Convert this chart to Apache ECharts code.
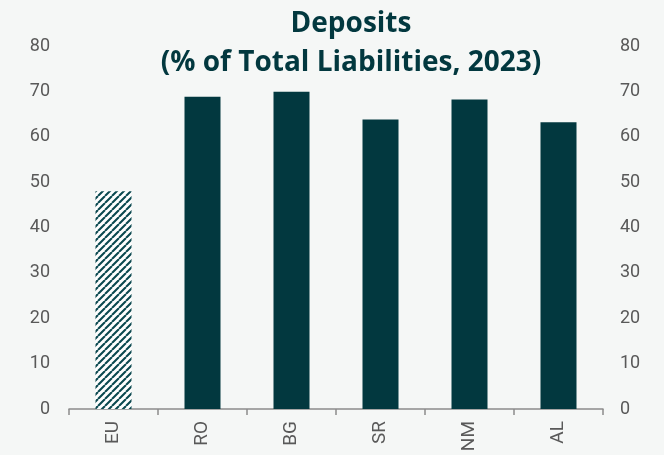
<!DOCTYPE html>
<html>
<head>
<meta charset="utf-8">
<script src="https://cdn.jsdelivr.net/npm/echarts@6/dist/echarts.min.js"></script>
<style>
  html, body { margin: 0; padding: 0; background: #f5f7f6; }
  #chart { width: 664px; height: 455px; }
</style>
</head>
<body>
<div id="chart"></div>
<script>
const categories = ['EU', 'RO', 'BG', 'SR', 'NM', 'AL'];
const deposits = [48.0, 68.8, 69.9, 63.8, 68.2, 63.2];
const yTicks = [0, 10, 20, 30, 40, 50, 60, 70, 80];

const teal = '#02383f';
const grey = '#595959';

// Diagonal hatch fill for the EU aggregate bar
function hatchPattern() {
  const size = 7;
  const c = document.createElement('canvas');
  c.width = size; c.height = size;
  const g = c.getContext('2d');
  g.fillStyle = '#ffffff';
  g.fillRect(0, 0, size, size);
  g.strokeStyle = '#0b4950';
  g.lineWidth = 2.1;
  g.beginPath();
  for (let k = -1; k <= 1; k++) {
    g.moveTo(k * size, size);
    g.lineTo(k * size + size, 0);
  }
  g.stroke();
  return c;
}

const barData = deposits.map((v, i) => ({
  value: v,
  itemStyle: i === 0
    ? { color: { image: hatchPattern(), repeat: 'repeat' } }
    : { color: teal }
}));

const chart = echarts.init(document.getElementById('chart'), null, { renderer: 'canvas' });
const yAxisCommon = {
  type: 'value',
  min: yTicks[0],
  max: yTicks[yTicks.length - 1],
  interval: 10,
  splitLine: { show: false },
  axisLine: { show: false },
  axisTick: { show: false },
  axisLabel: { color: grey, fontSize: 18, fontFamily: 'Roboto' }
};

chart.setOption({
  backgroundColor: '#f5f7f6',
  animation: false,
  title: {
    text: 'Deposits\n(% of Total Liabilities, 2023)',
    left: 346,
    top: 0,
    textAlign: 'center',
    textStyle: {
      color: teal,
      fontSize: 28,
      fontWeight: 'bold',
      fontFamily: 'Open Sans',
      lineHeight: 39
    }
  },
  grid: { left: 69, right: 61, top: 46, bottom: 46 },
  xAxis: {
    type: 'category',
    data: categories,
    axisLine: { lineStyle: { color: '#8c8c8c', width: 1.5 } },
    axisTick: { show: true, length: 6, lineStyle: { color: '#8c8c8c', width: 1.5 } },
    axisLabel: { color: grey, fontSize: 19, fontFamily: 'Roboto', rotate: 90, margin: 12 }
  },
  yAxis: [
    Object.assign({}, yAxisCommon, { position: 'left', axisLabel: Object.assign({}, yAxisCommon.axisLabel, { margin: 19 }) }),
    Object.assign({}, yAxisCommon, { position: 'right', axisLabel: Object.assign({}, yAxisCommon.axisLabel, { margin: 17 }) })
  ],
  series: [{
    type: 'bar',
    data: barData,
    barWidth: 36,
    yAxisIndex: 0
  }]
});
</script>
</body>
</html>
